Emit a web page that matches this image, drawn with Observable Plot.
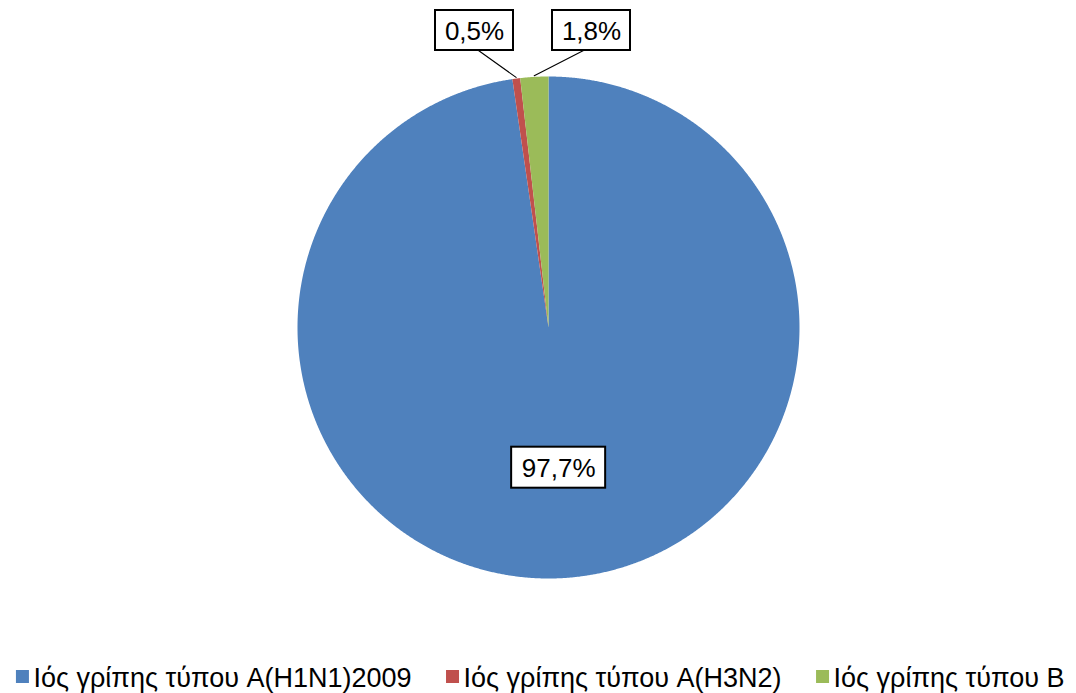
<!DOCTYPE html>
<html><head><meta charset="utf-8">
<script src="https://cdn.jsdelivr.net/npm/d3@7"></script>
<script src="https://cdn.jsdelivr.net/npm/@observablehq/plot@0.6"></script>
<style>body{margin:0;background:#fff;overflow:hidden}</style>
</head><body><div id="chart"></div>
<script>
const categories = ["Ιός γρίπης τύπου A(H1N1)2009", "Ιός γρίπης τύπου A(H3N2)", "Ιός γρίπης τύπου B"];
const values = [97.7, 0.5, 1.8];
const labels = ["97,7%", "0,5%", "1,8%"];
const colors = ["#4F81BD", "#C0504D", "#9BBB59"];

const W = 1076, H = 693, cx = 548, cy = 327, R = 251;
const FONT = "Liberation Sans, Arial, sans-serif";
const px = x => (x - cx) / R;          // pixel -> unit
const py = y => (cy - y) / R;

const total = d3.sum(values);
let acc = 0;
const slices = categories.map((c, i) => {
  const a0 = acc / total * 2 * Math.PI; acc += values[i];
  const a1 = acc / total * 2 * Math.PI;
  return {c, i, a0, a1, mid: (a0 + a1) / 2};
});
const polyOf = s => {
  const pts = [{x: 0, y: 0}];
  const n = Math.max(2, Math.ceil((s.a1 - s.a0) / 0.004));
  for (let k = 0; k <= n; k++) {
    const a = s.a0 + (s.a1 - s.a0) * k / n;
    pts.push({x: Math.sin(a), y: Math.cos(a)});
  }
  pts.push({x: 0, y: 0});
  return pts;
};

// label layout (pixel boxes)
const boxW = [94, 78, 78], boxH = [41, 40, 40];
const inner = slices[0];
const labelPos = [
  {x: 0.56 * Math.sin(inner.mid), y: 0.56 * Math.cos(inner.mid)},
  {x: px(474), y: py(30)},
  {x: px(591), y: py(30)}
];
const boxes = labelPos.map((p, i) => ({
  x1: p.x - boxW[i] / 2 / R, x2: p.x + boxW[i] / 2 / R,
  y1: p.y - boxH[i] / 2 / R, y2: p.y + boxH[i] / 2 / R, label: labels[i], x: p.x, y: p.y
}));
const leaders = [1, 2].map(i => {
  const s = slices[i], b = boxes[i];
  const bx = i === 1 ? b.x + 4 / R : b.x - 8 / R;
  return [{x: bx, y: b.y1, k: i}, {x: 1.005 * Math.sin(s.mid), y: 1.005 * Math.cos(s.mid), k: i}];
}).flat();

// legend layout
const ctx = document.createElement("canvas").getContext("2d");
const LFS = 27;
ctx.font = `${LFS}px ${FONT}`;
const sq = 13, gapText = 4, gapItem = 35;
const widths = categories.map(c => ctx.measureText(c).width);
const totalW = d3.sum(widths) + categories.length * (sq + gapText) + gapItem * (categories.length - 1);
let lx = 540 - totalW / 2;
const legend = categories.map((c, i) => {
  const item = {c, i, sx: lx, tx: lx + sq + gapText};
  lx += sq + gapText + widths[i] + gapItem;
  return item;
});
const ly = 676.5;

const marks = [];
slices.forEach(s => marks.push(Plot.line(polyOf(s), {x: "x", y: "y", fill: colors[s.i], stroke: "none", curve: "linear"})));
marks.push(Plot.line(leaders, {x: "x", y: "y", z: "k", stroke: "#000", strokeWidth: 1.1}));
marks.push(Plot.rect(boxes, {x1: "x1", x2: "x2", y1: "y1", y2: "y2", fill: "#fff", stroke: "#000", strokeWidth: 2}));
marks.push(Plot.text(boxes, {x: "x", y: "y", text: "label", fontSize: 26, fill: "#000", dy: 1}));
marks.push(Plot.rect(legend, {x1: d => px(d.sx), x2: d => px(d.sx + sq), y1: py(ly - sq / 2), y2: py(ly + sq / 2), fill: d => colors[d.i]}));
marks.push(Plot.text(legend, {x: d => px(d.tx), y: py(ly), text: "c", textAnchor: "start", fontSize: LFS, fill: "#000", dy: 1}));

const chart = Plot.plot({
  width: W, height: H,
  margin: 0,
  style: {fontFamily: FONT, background: "#fff"},
  x: {domain: [px(0), px(W)], axis: null},
  y: {domain: [py(H), py(0)], axis: null},
  color: {domain: categories, range: colors},
  marks
});
document.getElementById("chart").append(chart);
</script>
</body></html>
